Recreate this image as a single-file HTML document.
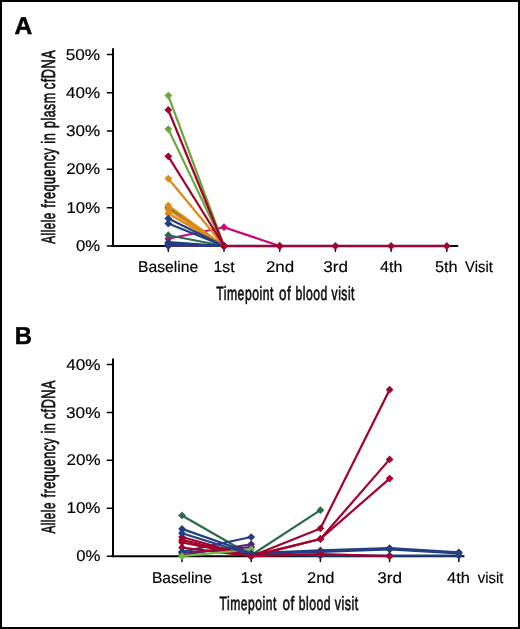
<!DOCTYPE html>
<html><head><meta charset="utf-8"><style>
html,body{margin:0;padding:0;background:#fff;}
svg{display:block;text-rendering:geometricPrecision;will-change:transform;}
</style></head><body>
<svg width="520" height="629" viewBox="0 0 520 629">
<rect x="0" y="0" width="520" height="629" fill="#fff"/>
<text transform="translate(14.44 34.00) scale(1.0036 1)" font-family='"Liberation Sans", sans-serif' font-weight="bold" font-size="24.5" fill="#000" stroke="#000" stroke-width="0.5">A</text>
<line x1="113" y1="49" x2="113" y2="246.0" stroke="#000" stroke-width="2" stroke-linecap="round"/>
<line x1="112" y1="246.0" x2="457.4" y2="246.0" stroke="#000" stroke-width="2" stroke-linecap="round"/>
<line x1="107.4" y1="246.00" x2="113" y2="246.00" stroke="#000" stroke-width="1.5" stroke-linecap="round"/>
<text transform="translate(75.93 251.10) scale(1.0794 1)" font-family='"Liberation Sans", sans-serif' font-size="15.5" fill="#000" stroke="#000" stroke-width="0.15">0%</text>
<line x1="107.4" y1="207.68" x2="113" y2="207.68" stroke="#000" stroke-width="1.5" stroke-linecap="round"/>
<text transform="translate(66.51 212.78) scale(1.0834 1)" font-family='"Liberation Sans", sans-serif' font-size="15.5" fill="#000" stroke="#000" stroke-width="0.15">10%</text>
<line x1="107.4" y1="169.36" x2="113" y2="169.36" stroke="#000" stroke-width="1.5" stroke-linecap="round"/>
<text transform="translate(66.13 174.46) scale(1.0956 1)" font-family='"Liberation Sans", sans-serif' font-size="15.5" fill="#000" stroke="#000" stroke-width="0.15">20%</text>
<line x1="107.4" y1="131.04" x2="113" y2="131.04" stroke="#000" stroke-width="1.5" stroke-linecap="round"/>
<text transform="translate(65.93 136.14) scale(1.1021 1)" font-family='"Liberation Sans", sans-serif' font-size="15.5" fill="#000" stroke="#000" stroke-width="0.15">30%</text>
<line x1="107.4" y1="92.72" x2="113" y2="92.72" stroke="#000" stroke-width="1.5" stroke-linecap="round"/>
<text transform="translate(65.99 97.82) scale(1.1002 1)" font-family='"Liberation Sans", sans-serif' font-size="15.5" fill="#000" stroke="#000" stroke-width="0.15">40%</text>
<line x1="107.4" y1="54.40" x2="113" y2="54.40" stroke="#000" stroke-width="1.5" stroke-linecap="round"/>
<text transform="translate(65.70 59.50) scale(1.1099 1)" font-family='"Liberation Sans", sans-serif' font-size="15.5" fill="#000" stroke="#000" stroke-width="0.15">50%</text>
<line x1="168.30" y1="246.0" x2="168.30" y2="251.3" stroke="#000" stroke-width="1.5" stroke-linecap="round"/>
<line x1="224.00" y1="246.0" x2="224.00" y2="251.3" stroke="#000" stroke-width="1.5" stroke-linecap="round"/>
<line x1="279.70" y1="246.0" x2="279.70" y2="251.3" stroke="#000" stroke-width="1.5" stroke-linecap="round"/>
<line x1="335.40" y1="246.0" x2="335.40" y2="251.3" stroke="#000" stroke-width="1.5" stroke-linecap="round"/>
<line x1="391.10" y1="246.0" x2="391.10" y2="251.3" stroke="#000" stroke-width="1.5" stroke-linecap="round"/>
<line x1="446.80" y1="246.0" x2="446.80" y2="251.3" stroke="#000" stroke-width="1.5" stroke-linecap="round"/>
<text transform="translate(137.89 272.40) scale(1.0147 1)" font-family='"Liberation Sans", sans-serif' font-size="15.5" fill="#000" stroke="#000" stroke-width="0.15">Baseline</text>
<text transform="translate(213.47 272.40) scale(1.0235 1)" font-family='"Liberation Sans", sans-serif' font-size="15.5" fill="#000" stroke="#000" stroke-width="0.15">1st</text>
<text transform="translate(265.93 272.40) scale(1.0934 1)" font-family='"Liberation Sans", sans-serif' font-size="15.5" fill="#000" stroke="#000" stroke-width="0.15">2nd</text>
<text transform="translate(323.23 272.40) scale(1.1018 1)" font-family='"Liberation Sans", sans-serif' font-size="15.5" fill="#000" stroke="#000" stroke-width="0.15">3rd</text>
<text transform="translate(380.01 272.40) scale(1.0378 1)" font-family='"Liberation Sans", sans-serif' font-size="15.5" fill="#000" stroke="#000" stroke-width="0.15">4th</text>
<text transform="translate(435.03 272.40) scale(1.0515 1)" font-family='"Liberation Sans", sans-serif' font-size="15.5" fill="#000" stroke="#000" stroke-width="0.15">5th</text>
<text transform="translate(465.10 272.40) scale(0.9563 1)" font-family='"Liberation Sans", sans-serif' font-size="15.5" fill="#000" stroke="#000" stroke-width="0.15">Visit</text>
<path d="M168.30 246.00 L224.00 246.00" fill="none" stroke="#5b2470" stroke-width="2.2" stroke-linejoin="round"/><path d="M168.30 242.10L172.20 246.00L168.30 249.90L164.40 246.00Z" fill="#5b2470"/><path d="M224.00 242.10L227.90 246.00L224.00 249.90L220.10 246.00Z" fill="#5b2470"/>
<path d="M168.30 238.72 L224.00 227.22 L279.70 246.00" fill="none" stroke="#c9067f" stroke-width="2.2" stroke-linejoin="round"/><path d="M168.30 234.82L172.20 238.72L168.30 242.62L164.40 238.72Z" fill="#c9067f"/><path d="M224.00 223.32L227.90 227.22L224.00 231.12L220.10 227.22Z" fill="#c9067f"/><path d="M279.70 242.10L283.60 246.00L279.70 249.90L275.80 246.00Z" fill="#c9067f"/>
<path d="M168.30 235.27 L224.00 246.00" fill="none" stroke="#2b6a4a" stroke-width="2.2" stroke-linejoin="round"/><path d="M168.30 231.37L172.20 235.27L168.30 239.17L164.40 235.27Z" fill="#2b6a4a"/><path d="M224.00 242.10L227.90 246.00L224.00 249.90L220.10 246.00Z" fill="#2b6a4a"/>
<path d="M168.30 242.17 L224.00 246.00" fill="none" stroke="#233f82" stroke-width="2.2" stroke-linejoin="round"/><path d="M168.30 238.27L172.20 242.17L168.30 246.07L164.40 242.17Z" fill="#233f82"/><path d="M224.00 242.10L227.90 246.00L224.00 249.90L220.10 246.00Z" fill="#233f82"/>
<path d="M168.30 243.70 L224.00 246.00" fill="none" stroke="#233f82" stroke-width="2.2" stroke-linejoin="round"/><path d="M168.30 239.80L172.20 243.70L168.30 247.60L164.40 243.70Z" fill="#233f82"/><path d="M224.00 242.10L227.90 246.00L224.00 249.90L220.10 246.00Z" fill="#233f82"/>
<path d="M168.30 244.85 L224.00 246.00" fill="none" stroke="#233f82" stroke-width="2.2" stroke-linejoin="round"/><path d="M168.30 240.95L172.20 244.85L168.30 248.75L164.40 244.85Z" fill="#233f82"/><path d="M224.00 242.10L227.90 246.00L224.00 249.90L220.10 246.00Z" fill="#233f82"/>
<path d="M168.30 213.43 L224.00 246.00" fill="none" stroke="#dd8b16" stroke-width="2.2" stroke-linejoin="round"/><path d="M168.30 209.53L172.20 213.43L168.30 217.33L164.40 213.43Z" fill="#dd8b16"/><path d="M224.00 242.10L227.90 246.00L224.00 249.90L220.10 246.00Z" fill="#dd8b16"/>
<path d="M168.30 207.68 L224.00 246.00" fill="none" stroke="#2b6a4a" stroke-width="2.2" stroke-linejoin="round"/><path d="M168.30 203.78L172.20 207.68L168.30 211.58L164.40 207.68Z" fill="#2b6a4a"/><path d="M224.00 242.10L227.90 246.00L224.00 249.90L220.10 246.00Z" fill="#2b6a4a"/>
<path d="M168.30 209.60 L224.00 246.00" fill="none" stroke="#dd8b16" stroke-width="2.2" stroke-linejoin="round"/><path d="M168.30 205.70L172.20 209.60L168.30 213.50L164.40 209.60Z" fill="#dd8b16"/><path d="M224.00 242.10L227.90 246.00L224.00 249.90L220.10 246.00Z" fill="#dd8b16"/>
<path d="M168.30 205.57 L224.00 246.00" fill="none" stroke="#dd8b16" stroke-width="2.2" stroke-linejoin="round"/><path d="M168.30 201.67L172.20 205.57L168.30 209.47L164.40 205.57Z" fill="#dd8b16"/><path d="M224.00 242.10L227.90 246.00L224.00 249.90L220.10 246.00Z" fill="#dd8b16"/>
<path d="M168.30 223.58 L224.00 246.00" fill="none" stroke="#233f82" stroke-width="2.2" stroke-linejoin="round"/><path d="M168.30 219.68L172.20 223.58L168.30 227.48L164.40 223.58Z" fill="#233f82"/><path d="M224.00 242.10L227.90 246.00L224.00 249.90L220.10 246.00Z" fill="#233f82"/>
<path d="M168.30 218.60 L224.00 246.00" fill="none" stroke="#233f82" stroke-width="2.2" stroke-linejoin="round"/><path d="M168.30 214.70L172.20 218.60L168.30 222.50L164.40 218.60Z" fill="#233f82"/><path d="M224.00 242.10L227.90 246.00L224.00 249.90L220.10 246.00Z" fill="#233f82"/>
<path d="M168.30 178.56 L224.00 246.00" fill="none" stroke="#dd8b16" stroke-width="2.2" stroke-linejoin="round"/><path d="M168.30 174.66L172.20 178.56L168.30 182.46L164.40 178.56Z" fill="#dd8b16"/><path d="M224.00 242.10L227.90 246.00L224.00 249.90L220.10 246.00Z" fill="#dd8b16"/>
<path d="M168.30 129.12 L224.00 246.00" fill="none" stroke="#6aa63a" stroke-width="2.2" stroke-linejoin="round"/><path d="M168.30 125.22L172.20 129.12L168.30 133.02L164.40 129.12Z" fill="#6aa63a"/><path d="M224.00 242.10L227.90 246.00L224.00 249.90L220.10 246.00Z" fill="#6aa63a"/>
<path d="M168.30 95.59 L224.00 246.00" fill="none" stroke="#6aa63a" stroke-width="2.2" stroke-linejoin="round"/><path d="M168.30 91.69L172.20 95.59L168.30 99.49L164.40 95.59Z" fill="#6aa63a"/><path d="M224.00 242.10L227.90 246.00L224.00 249.90L220.10 246.00Z" fill="#6aa63a"/>
<path d="M168.30 156.33 L224.00 246.00" fill="none" stroke="#a3022d" stroke-width="2.2" stroke-linejoin="round"/><path d="M168.30 152.43L172.20 156.33L168.30 160.23L164.40 156.33Z" fill="#a3022d"/><path d="M224.00 242.10L227.90 246.00L224.00 249.90L220.10 246.00Z" fill="#a3022d"/>
<path d="M168.30 109.96 L224.00 246.00" fill="none" stroke="#a3022d" stroke-width="2.2" stroke-linejoin="round"/><path d="M168.30 106.06L172.20 109.96L168.30 113.86L164.40 109.96Z" fill="#a3022d"/><path d="M224.00 242.10L227.90 246.00L224.00 249.90L220.10 246.00Z" fill="#a3022d"/>
<path d="M224.00 246.00 L446.80 246.00" stroke="#5b2470" stroke-width="2.9" fill="none" opacity="0.55"/>
<path d="M224.00 246.00 L279.70 246.00 L335.40 246.00 L391.10 246.00 L446.80 246.00" fill="none" stroke="#a3022d" stroke-width="2.2" stroke-linejoin="round"/><path d="M224.00 242.10L227.90 246.00L224.00 249.90L220.10 246.00Z" fill="#a3022d"/><path d="M279.70 242.10L283.60 246.00L279.70 249.90L275.80 246.00Z" fill="#a3022d"/><path d="M335.40 242.10L339.30 246.00L335.40 249.90L331.50 246.00Z" fill="#a3022d"/><path d="M391.10 242.10L395.00 246.00L391.10 249.90L387.20 246.00Z" fill="#a3022d"/><path d="M446.80 242.10L450.70 246.00L446.80 249.90L442.90 246.00Z" fill="#a3022d"/>
<text transform="translate(216.25 299.70) scale(0.6315 1)" font-family='"Liberation Sans", sans-serif' font-size="19.3" fill="#111" stroke="#111" stroke-width="0.7" letter-spacing="0.8">Timepoint</text>
<text transform="translate(279.08 299.70) scale(0.6962 1)" font-family='"Liberation Sans", sans-serif' font-size="19.3" fill="#111" stroke="#111" stroke-width="0.7" letter-spacing="0.8">of</text>
<text transform="translate(295.43 299.70) scale(0.6333 1)" font-family='"Liberation Sans", sans-serif' font-size="19.3" fill="#111" stroke="#111" stroke-width="0.7" letter-spacing="0.8">blood</text>
<text transform="translate(331.57 299.70) scale(0.6283 1)" font-family='"Liberation Sans", sans-serif' font-size="19.3" fill="#111" stroke="#111" stroke-width="0.7" letter-spacing="0.8">visit</text>
<text transform="translate(55.00 243.71) rotate(-90) scale(0.6076 1)" font-family='"Liberation Sans", sans-serif' font-size="19.3" fill="#111" stroke="#111" stroke-width="0.7" letter-spacing="0.8">Allele</text>
<text transform="translate(55.00 207.65) rotate(-90) scale(0.6521 1)" font-family='"Liberation Sans", sans-serif' font-size="19.3" fill="#111" stroke="#111" stroke-width="0.7" letter-spacing="0.8">frequency</text>
<text transform="translate(55.00 143.63) rotate(-90) scale(0.6658 1)" font-family='"Liberation Sans", sans-serif' font-size="19.3" fill="#111" stroke="#111" stroke-width="0.7" letter-spacing="0.8">in</text>
<text transform="translate(55.00 127.97) rotate(-90) scale(0.6394 1)" font-family='"Liberation Sans", sans-serif' font-size="19.3" fill="#111" stroke="#111" stroke-width="0.7" letter-spacing="0.8">plasm</text>
<text transform="translate(55.00 89.20) rotate(-90) scale(0.6598 1)" font-family='"Liberation Sans", sans-serif' font-size="19.3" fill="#111" stroke="#111" stroke-width="0.7" letter-spacing="0.8">cfDNA</text>
<text transform="translate(14.85 344.00) scale(0.9712 1)" font-family='"Liberation Sans", sans-serif' font-weight="bold" font-size="24.5" fill="#000" stroke="#000" stroke-width="0.5">B</text>
<line x1="113" y1="359.3" x2="113" y2="556.2" stroke="#000" stroke-width="2" stroke-linecap="round"/>
<line x1="112" y1="556.2" x2="463.6" y2="556.2" stroke="#000" stroke-width="2" stroke-linecap="round"/>
<line x1="107.4" y1="556.20" x2="113" y2="556.20" stroke="#000" stroke-width="1.5" stroke-linecap="round"/>
<text transform="translate(76.23 561.30) scale(1.0841 1)" font-family='"Liberation Sans", sans-serif' font-size="15.5" fill="#000" stroke="#000" stroke-width="0.15">0%</text>
<line x1="107.4" y1="508.27" x2="113" y2="508.27" stroke="#000" stroke-width="1.5" stroke-linecap="round"/>
<text transform="translate(66.39 513.37) scale(1.1004 1)" font-family='"Liberation Sans", sans-serif' font-size="15.5" fill="#000" stroke="#000" stroke-width="0.15">10%</text>
<line x1="107.4" y1="460.34" x2="113" y2="460.34" stroke="#000" stroke-width="1.5" stroke-linecap="round"/>
<text transform="translate(66.53 465.44) scale(1.0956 1)" font-family='"Liberation Sans", sans-serif' font-size="15.5" fill="#000" stroke="#000" stroke-width="0.15">20%</text>
<line x1="107.4" y1="412.41" x2="113" y2="412.41" stroke="#000" stroke-width="1.5" stroke-linecap="round"/>
<text transform="translate(66.03 417.51) scale(1.1121 1)" font-family='"Liberation Sans", sans-serif' font-size="15.5" fill="#000" stroke="#000" stroke-width="0.15">30%</text>
<line x1="107.4" y1="364.48" x2="113" y2="364.48" stroke="#000" stroke-width="1.5" stroke-linecap="round"/>
<text transform="translate(66.19 369.58) scale(1.1068 1)" font-family='"Liberation Sans", sans-serif' font-size="15.5" fill="#000" stroke="#000" stroke-width="0.15">40%</text>
<line x1="182.00" y1="556.2" x2="182.00" y2="561.5" stroke="#000" stroke-width="1.5" stroke-linecap="round"/>
<line x1="251.20" y1="556.2" x2="251.20" y2="561.5" stroke="#000" stroke-width="1.5" stroke-linecap="round"/>
<line x1="320.40" y1="556.2" x2="320.40" y2="561.5" stroke="#000" stroke-width="1.5" stroke-linecap="round"/>
<line x1="389.60" y1="556.2" x2="389.60" y2="561.5" stroke="#000" stroke-width="1.5" stroke-linecap="round"/>
<line x1="458.80" y1="556.2" x2="458.80" y2="561.5" stroke="#000" stroke-width="1.5" stroke-linecap="round"/>
<text transform="translate(151.89 583.00) scale(1.0095 1)" font-family='"Liberation Sans", sans-serif' font-size="15.5" fill="#000" stroke="#000" stroke-width="0.15">Baseline</text>
<text transform="translate(240.76 583.00) scale(1.0338 1)" font-family='"Liberation Sans", sans-serif' font-size="15.5" fill="#000" stroke="#000" stroke-width="0.15">1st</text>
<text transform="translate(306.95 583.00) scale(1.0645 1)" font-family='"Liberation Sans", sans-serif' font-size="15.5" fill="#000" stroke="#000" stroke-width="0.15">2nd</text>
<text transform="translate(377.13 583.00) scale(1.1065 1)" font-family='"Liberation Sans", sans-serif' font-size="15.5" fill="#000" stroke="#000" stroke-width="0.15">3rd</text>
<text transform="translate(447.10 583.00) scale(1.0575 1)" font-family='"Liberation Sans", sans-serif' font-size="15.5" fill="#000" stroke="#000" stroke-width="0.15">4th</text>
<text transform="translate(477.71 583.00) scale(0.9599 1)" font-family='"Liberation Sans", sans-serif' font-size="15.5" fill="#000" stroke="#000" stroke-width="0.15">visit</text>
<path d="M182.00 515.46 L251.20 555.24 L320.40 510.19" fill="none" stroke="#2b6a4a" stroke-width="2.2" stroke-linejoin="round"/><path d="M182.00 511.56L185.90 515.46L182.00 519.36L178.10 515.46Z" fill="#2b6a4a"/><path d="M251.20 551.34L255.10 555.24L251.20 559.14L247.30 555.24Z" fill="#2b6a4a"/><path d="M320.40 506.29L324.30 510.19L320.40 514.09L316.50 510.19Z" fill="#2b6a4a"/>
<path d="M182.00 555.24 L251.20 544.22" fill="none" stroke="#5b2470" stroke-width="2.2" stroke-linejoin="round"/><path d="M182.00 551.34L185.90 555.24L182.00 559.14L178.10 555.24Z" fill="#5b2470"/><path d="M251.20 540.32L255.10 544.22L251.20 548.12L247.30 544.22Z" fill="#5b2470"/>
<path d="M182.00 552.84 L251.20 547.09" fill="none" stroke="#5b2470" stroke-width="2.2" stroke-linejoin="round"/><path d="M182.00 548.94L185.90 552.84L182.00 556.74L178.10 552.84Z" fill="#5b2470"/><path d="M251.20 543.19L255.10 547.09L251.20 550.99L247.30 547.09Z" fill="#5b2470"/>
<path d="M182.00 551.89 L251.20 537.03" fill="none" stroke="#233f82" stroke-width="2.2" stroke-linejoin="round"/><path d="M182.00 547.99L185.90 551.89L182.00 555.79L178.10 551.89Z" fill="#233f82"/><path d="M251.20 533.13L255.10 537.03L251.20 540.93L247.30 537.03Z" fill="#233f82"/>
<path d="M251.20 553.32 L320.40 550.45 L389.60 548.05 L458.80 552.37" fill="none" stroke="#233f82" stroke-width="2.2" stroke-linejoin="round"/><path d="M251.20 549.42L255.10 553.32L251.20 557.22L247.30 553.32Z" fill="#233f82"/><path d="M320.40 546.55L324.30 550.45L320.40 554.35L316.50 550.45Z" fill="#233f82"/><path d="M389.60 544.15L393.50 548.05L389.60 551.95L385.70 548.05Z" fill="#233f82"/><path d="M458.80 548.47L462.70 552.37L458.80 556.27L454.90 552.37Z" fill="#233f82"/>
<path d="M251.20 554.28 L320.40 551.89 L389.60 549.49 L458.80 553.32" fill="none" stroke="#233f82" stroke-width="2.2" stroke-linejoin="round"/><path d="M251.20 550.38L255.10 554.28L251.20 558.18L247.30 554.28Z" fill="#233f82"/><path d="M320.40 547.99L324.30 551.89L320.40 555.79L316.50 551.89Z" fill="#233f82"/><path d="M389.60 545.59L393.50 549.49L389.60 553.39L385.70 549.49Z" fill="#233f82"/><path d="M458.80 549.42L462.70 553.32L458.80 557.22L454.90 553.32Z" fill="#233f82"/>
<path d="M251.20 554.76 L320.40 555.72 L389.60 555.72 L458.80 555.72" fill="none" stroke="#233f82" stroke-width="2.2" stroke-linejoin="round"/><path d="M251.20 550.86L255.10 554.76L251.20 558.66L247.30 554.76Z" fill="#233f82"/><path d="M320.40 551.82L324.30 555.72L320.40 559.62L316.50 555.72Z" fill="#233f82"/><path d="M389.60 551.82L393.50 555.72L389.60 559.62L385.70 555.72Z" fill="#233f82"/><path d="M458.80 551.82L462.70 555.72L458.80 559.62L454.90 555.72Z" fill="#233f82"/>
<path d="M182.00 537.03 L251.20 556.20 L320.40 528.40 L389.60 389.64" fill="none" stroke="#a3022d" stroke-width="2.2" stroke-linejoin="round"/><path d="M182.00 533.13L185.90 537.03L182.00 540.93L178.10 537.03Z" fill="#a3022d"/><path d="M251.20 552.30L255.10 556.20L251.20 560.10L247.30 556.20Z" fill="#a3022d"/><path d="M320.40 524.50L324.30 528.40L320.40 532.30L316.50 528.40Z" fill="#a3022d"/><path d="M389.60 385.74L393.50 389.64L389.60 393.54L385.70 389.64Z" fill="#a3022d"/>
<path d="M182.00 539.90 L251.20 556.20 L320.40 538.95 L389.60 459.38" fill="none" stroke="#a3022d" stroke-width="2.2" stroke-linejoin="round"/><path d="M182.00 536.00L185.90 539.90L182.00 543.80L178.10 539.90Z" fill="#a3022d"/><path d="M251.20 552.30L255.10 556.20L251.20 560.10L247.30 556.20Z" fill="#a3022d"/><path d="M320.40 535.05L324.30 538.95L320.40 542.85L316.50 538.95Z" fill="#a3022d"/><path d="M389.60 455.48L393.50 459.38L389.60 463.28L385.70 459.38Z" fill="#a3022d"/>
<path d="M182.00 542.30 L251.20 556.20 L320.40 538.95 L389.60 478.55" fill="none" stroke="#a3022d" stroke-width="2.2" stroke-linejoin="round"/><path d="M182.00 538.40L185.90 542.30L182.00 546.20L178.10 542.30Z" fill="#a3022d"/><path d="M251.20 552.30L255.10 556.20L251.20 560.10L247.30 556.20Z" fill="#a3022d"/><path d="M320.40 535.05L324.30 538.95L320.40 542.85L316.50 538.95Z" fill="#a3022d"/><path d="M389.60 474.65L393.50 478.55L389.60 482.45L385.70 478.55Z" fill="#a3022d"/>
<path d="M182.00 547.57 L251.20 556.20 L320.40 554.04 L389.60 556.20" fill="none" stroke="#a3022d" stroke-width="2.2" stroke-linejoin="round"/><path d="M182.00 543.67L185.90 547.57L182.00 551.47L178.10 547.57Z" fill="#a3022d"/><path d="M251.20 552.30L255.10 556.20L251.20 560.10L247.30 556.20Z" fill="#a3022d"/><path d="M320.40 550.14L324.30 554.04L320.40 557.94L316.50 554.04Z" fill="#a3022d"/><path d="M389.60 552.30L393.50 556.20L389.60 560.10L385.70 556.20Z" fill="#a3022d"/>
<path d="M182.00 551.89" fill="none" stroke="#233f82" stroke-width="2.2" stroke-linejoin="round"/><path d="M182.00 547.99L185.90 551.89L182.00 555.79L178.10 551.89Z" fill="#233f82"/>
<path d="M182.00 556.20 L251.20 549.49" fill="none" stroke="#6dbb3f" stroke-width="2.2" stroke-linejoin="round"/><path d="M182.00 552.30L185.90 556.20L182.00 560.10L178.10 556.20Z" fill="#6dbb3f"/><path d="M251.20 545.59L255.10 549.49L251.20 553.39L247.30 549.49Z" fill="#6dbb3f"/>
<path d="M182.00 528.88 L251.20 553.32" fill="none" stroke="#233f82" stroke-width="2.2" stroke-linejoin="round"/><path d="M182.00 524.98L185.90 528.88L182.00 532.78L178.10 528.88Z" fill="#233f82"/><path d="M251.20 549.42L255.10 553.32L251.20 557.22L247.30 553.32Z" fill="#233f82"/>
<path d="M182.00 533.19 L251.20 554.76" fill="none" stroke="#233f82" stroke-width="2.2" stroke-linejoin="round"/><path d="M182.00 529.29L185.90 533.19L182.00 537.09L178.10 533.19Z" fill="#233f82"/><path d="M251.20 550.86L255.10 554.76L251.20 558.66L247.30 554.76Z" fill="#233f82"/>
<path d="M251.20 556.20" fill="none" stroke="#a3022d" stroke-width="2.2" stroke-linejoin="round"/><path d="M251.20 552.30L255.10 556.20L251.20 560.10L247.30 556.20Z" fill="#a3022d"/>
<text transform="translate(219.55 610.20) scale(0.6282 1)" font-family='"Liberation Sans", sans-serif' font-size="19.3" fill="#111" stroke="#111" stroke-width="0.7" letter-spacing="0.8">Timepoint</text>
<text transform="translate(282.48 610.20) scale(0.7022 1)" font-family='"Liberation Sans", sans-serif' font-size="19.3" fill="#111" stroke="#111" stroke-width="0.7" letter-spacing="0.8">of</text>
<text transform="translate(298.63 610.20) scale(0.6333 1)" font-family='"Liberation Sans", sans-serif' font-size="19.3" fill="#111" stroke="#111" stroke-width="0.7" letter-spacing="0.8">blood</text>
<text transform="translate(334.78 610.20) scale(0.6446 1)" font-family='"Liberation Sans", sans-serif' font-size="19.3" fill="#111" stroke="#111" stroke-width="0.7" letter-spacing="0.8">visit</text>
<text transform="translate(55.10 533.61) rotate(-90) scale(0.6076 1)" font-family='"Liberation Sans", sans-serif' font-size="19.3" fill="#111" stroke="#111" stroke-width="0.7" letter-spacing="0.8">Allele</text>
<text transform="translate(55.10 497.55) rotate(-90) scale(0.6521 1)" font-family='"Liberation Sans", sans-serif' font-size="19.3" fill="#111" stroke="#111" stroke-width="0.7" letter-spacing="0.8">frequency</text>
<text transform="translate(55.10 433.53) rotate(-90) scale(0.6658 1)" font-family='"Liberation Sans", sans-serif' font-size="19.3" fill="#111" stroke="#111" stroke-width="0.7" letter-spacing="0.8">in</text>
<text transform="translate(55.10 419.30) rotate(-90) scale(0.6598 1)" font-family='"Liberation Sans", sans-serif' font-size="19.3" fill="#111" stroke="#111" stroke-width="0.7" letter-spacing="0.8">cfDNA</text>
<rect x="1" y="1" width="518" height="627" fill="none" stroke="#000" stroke-width="2"/>
</svg>
</body></html>
